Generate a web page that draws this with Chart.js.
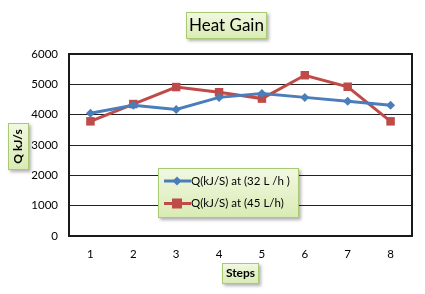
<!DOCTYPE html>
<html>
<head>
<meta charset="utf-8">
<script src="https://cdn.jsdelivr.net/npm/chart.js@4.4.0/dist/chart.umd.min.js"></script>
<style>
  html, body { margin: 0; padding: 0; background: #fff; }
  #wrap { width: 425px; height: 294px; position: relative; }
</style>
</head>
<body>
<div id="wrap"><canvas id="myChart" width="425" height="294"></canvas></div>
<script>
const steps = ['1', '2', '3', '4', '5', '6', '7', '8'];
const q32 = [4050, 4310, 4170, 4570, 4700, 4570, 4440, 4310];
const q45 = [3780, 4350, 4910, 4740, 4530, 5300, 4920, 3780];
const seriesNames = ['Q(kJ/S) at (32 L /h )', 'Q(kJ/S) at (45 L/h)'];
const chartTitle = 'Heat Gain';
const xTitle = 'Steps';
const yTitle = 'Q kJ/s';

const FONT = 'Lato, "Open Sans", sans-serif';

// green label box like the Excel shapes
function greenBox(ctx, x, y, w, h) {
    ctx.save();
    ctx.shadowColor = 'rgba(0,0,0,0.3)';
    ctx.shadowOffsetX = 2;
    ctx.shadowOffsetY = 2;
    ctx.shadowBlur = 3;
    const g = ctx.createLinearGradient(0, y, 0, y + h);
    g.addColorStop(0, '#f1f8e2');
    g.addColorStop(1, '#d9ebb3');
    ctx.fillStyle = g;
    ctx.fillRect(x, y, w, h);
    ctx.restore();
    ctx.save();
    ctx.strokeStyle = '#a9c973';
    ctx.lineWidth = 1;
    ctx.strokeRect(x + 0.5, y + 0.5, w - 1, h - 1);
    ctx.restore();
}

const boxesPlugin = {
    id: 'boxes',
    beforeDatasetsDraw(chart) {
        const { ctx, chartArea: a } = chart;
        ctx.save();
        ctx.strokeStyle = '#1a1a1a';
        ctx.lineWidth = 2;
        ctx.strokeRect(a.left, a.top, a.right - a.left, a.bottom - a.top);
        ctx.restore();
    },
    afterDraw(chart) {
        const { ctx } = chart;

        // title
        greenBox(ctx, 186, 12, 81, 27);
        ctx.save();
        ctx.fillStyle = '#000';
        ctx.font = '17px ' + FONT;
        ctx.textAlign = 'center';
        ctx.textBaseline = 'middle';
        ctx.fillText(chartTitle, 226.5, 26);
        ctx.restore();

        // y axis title
        greenBox(ctx, 8, 123, 21, 47);
        ctx.save();
        ctx.translate(18.5, 146.5);
        ctx.rotate(-Math.PI / 2);
        ctx.fillStyle = '#000';
        ctx.font = 'bold 12px ' + FONT;
        ctx.textAlign = 'center';
        ctx.textBaseline = 'middle';
        ctx.fillText(yTitle, 0, 0);
        ctx.restore();

        // x axis title
        greenBox(ctx, 222, 263, 37, 21);
        ctx.save();
        ctx.fillStyle = '#000';
        ctx.font = 'bold 12px ' + FONT;
        ctx.textAlign = 'center';
        ctx.textBaseline = 'middle';
        ctx.fillText(xTitle, 240.5, 273.5);
        ctx.restore();

        // legend inside the plot
        greenBox(ctx, 158, 168, 141, 50);
        chart.data.datasets.forEach((ds, i) => {
            const cy = 181 + i * 22.5;
            ctx.save();
            ctx.strokeStyle = ds.borderColor;
            ctx.lineWidth = 3;
            ctx.beginPath();
            ctx.moveTo(164, cy);
            ctx.lineTo(191, cy);
            ctx.stroke();
            ctx.fillStyle = ds.backgroundColor;
            if (ds.pointStyle === 'rect') {
                ctx.fillRect(172, cy - 5, 10, 10);
            } else {
                ctx.beginPath();
                ctx.moveTo(177, cy - 4.5);
                ctx.lineTo(181.5, cy);
                ctx.lineTo(177, cy + 4.5);
                ctx.lineTo(172.5, cy);
                ctx.closePath();
                ctx.fill();
            }
            ctx.fillStyle = '#000';
            ctx.font = '11.5px ' + FONT;
            ctx.textBaseline = 'middle';
            ctx.fillText(ds.label, 191, cy);
            ctx.restore();
        });
    }
};

const ctx = document.getElementById('myChart').getContext('2d');
new Chart(ctx, {
    type: 'line',
    data: {
        labels: steps,
        datasets: [
            {
                label: seriesNames[0],
                data: q32,
                borderColor: '#4a7ebb',
                backgroundColor: '#4a7ebb',
                borderWidth: 3,
                pointStyle: 'rectRot',
                pointRadius: 4.5,
                pointBorderWidth: 0,
                tension: 0
            },
            {
                label: seriesNames[1],
                data: q45,
                borderColor: '#be4b48',
                backgroundColor: '#be4b48',
                borderWidth: 3,
                pointStyle: 'rect',
                pointRadius: 6,
                pointBorderWidth: 0,
                tension: 0
            }
        ]
    },
    options: {
        responsive: false,
        animation: false,
        devicePixelRatio: 1,
        layout: { padding: { left: 0, top: 54, right: 13, bottom: 0 } },
        plugins: {
            legend: { display: false },
            title: { display: false },
            tooltip: { enabled: false }
        },
        scales: {
            x: {
                offset: true,
                grid: { display: false, drawTicks: false },
                border: { display: false },
                ticks: { color: '#000', padding: 11, font: { family: FONT, size: 11.5 } },
                afterFit: (s) => { s.height = 58; }
            },
            y: {
                min: 0,
                max: 6000,
                grid: { color: '#222', lineWidth: 1, drawTicks: false },
                border: { display: false },
                ticks: {
                    stepSize: 1000,
                    color: '#000',
                    padding: 11,
                    font: { family: FONT, size: 11.5 },
                    callback: (v) => String(v)
                },
                afterFit: (s) => { s.width = 69; }
            }
        }
    },
    plugins: [boxesPlugin]
});
</script>
</body>
</html>
